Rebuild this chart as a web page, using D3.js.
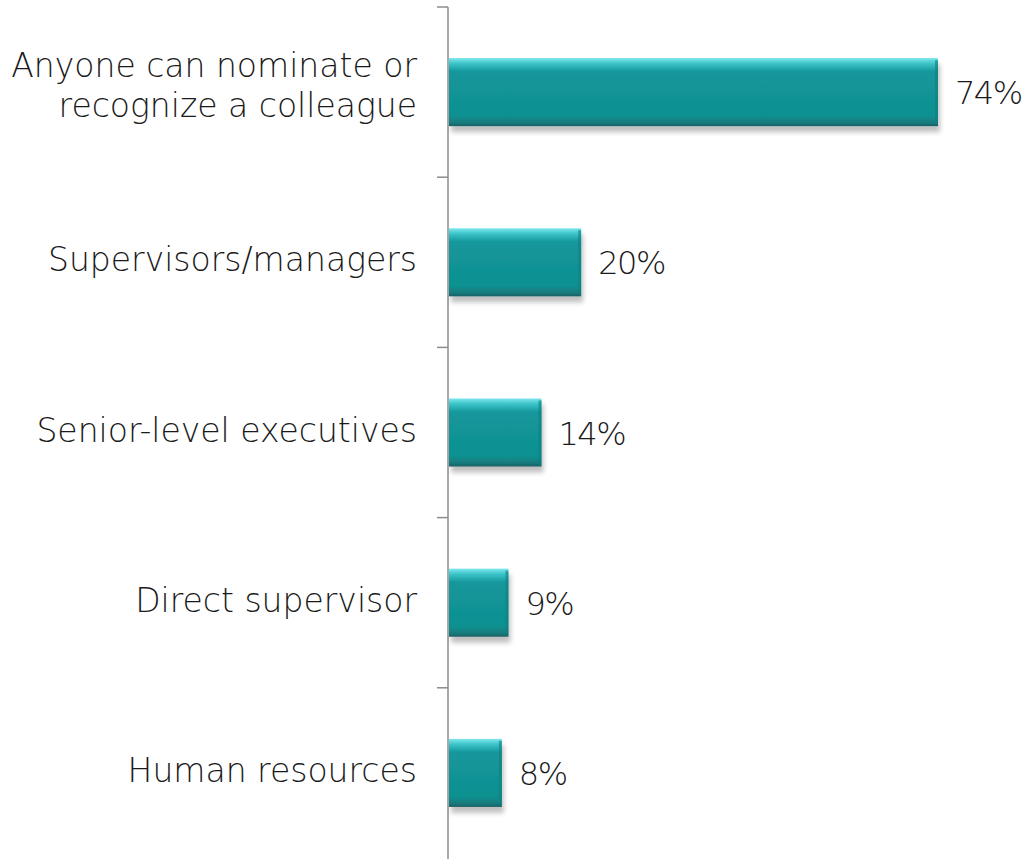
<!DOCTYPE html>
<html><head><meta charset="utf-8">
<script src="https://cdn.jsdelivr.net/npm/d3@7"></script>
<style>body{margin:0;background:#fff;}svg{display:block;}</style>
</head><body>
<svg id="c" width="1025" height="859"></svg>
<script>
const categories = [["Anyone can nominate or","recognize a colleague"],["Supervisors/managers"],["Senior-level executives"],["Direct supervisor"],["Human resources"]];
const values = [74,20,14,9,8];
const valueLabels = ["74%","20%","14%","9%","8%"];

(function(){
const svg = d3.select("#c");
const x0 = 449, yTop = 7, yBot = 858;
const x = d3.scaleLinear().domain([0,74]).range([x0, 938]);
const y = d3.scaleBand().domain(d3.range(values.length)).range([yTop,yBot]).paddingInner(0.6).paddingOuter(0.3);

const defs = svg.append("defs");
const g = defs.append("linearGradient").attr("id","bev").attr("x1",0).attr("y1",0).attr("x2",0).attr("y2",1);
[[0,"#7ee8ee"],[0.08,"#3cc4c8"],[0.2,"#13979b"],[0.85,"#109090"],[0.95,"#157a7c"],[1,"#1d5f62"]].forEach(s=>g.append("stop").attr("offset",s[0]).attr("stop-color",s[1]));
const f = defs.append("filter").attr("id","sh").attr("x","-10%").attr("y","-20%").attr("width","130%").attr("height","150%");
f.append("feGaussianBlur").attr("in","SourceAlpha").attr("stdDeviation",2.5);
f.append("feOffset").attr("dx",2).attr("dy",6).attr("result","ob");
f.append("feComponentTransfer").append("feFuncA").attr("type","linear").attr("slope",0.25);
const m = f.append("feMerge"); m.append("feMergeNode"); m.append("feMergeNode").attr("in","SourceGraphic");

const step = y.step();
const boundaries = d3.range(values.length).map(i => yTop + i*step);
svg.append("line").attr("x1",x0-1).attr("x2",x0-1).attr("y1",yTop).attr("y2",yBot+1).attr("stroke","#8c8c8c").attr("stroke-width",1.5);
svg.selectAll(".tk").data(boundaries).join("line")
 .attr("x1",x0-12).attr("x2",x0-1).attr("y1",d=>d).attr("y2",d=>d).attr("stroke","#8c8c8c").attr("stroke-width",1.5);

svg.selectAll(".bar").data(values).join("rect")
 .attr("x",x0).attr("y",(d,i)=>y(i)).attr("width",d=>x(d)-x0).attr("height",y.bandwidth())
 .attr("fill","url(#bev)").attr("filter","url(#sh)");
svg.selectAll(".bl").data(values).join("rect")
 .attr("x",d=>x(d)-3).attr("y",(d,i)=>y(i)+2).attr("width",3).attr("height",y.bandwidth()-4)
 .attr("fill","#107e80").attr("opacity",0.6);

const font = "'DejaVu Sans', sans-serif";
categories.forEach((lines,i)=>{
  const cy = y(i)+y.bandwidth()/2;
  const n = lines.length;
  const t = svg.append("text").attr("text-anchor","end").attr("font-family",font).attr("font-weight",200)
   .attr("font-size",33).attr("fill","#1a1a1a");
  lines.forEach((l,j)=>{
    t.append("tspan").attr("x",417).attr("y",cy + 9 + (j-(n-1)/2)*40 - (n-1)*4).text(l);
  });
});
svg.selectAll(".vl").data(values).join("text")
 .attr("x",d=>x(d)+17).attr("y",(d,i)=>y(i)+y.bandwidth()/2+12)
 .attr("font-family",font).attr("font-weight",200).attr("font-size",32).attr("letter-spacing",-1.5).attr("fill","#1a1a1a")
 .text((d,i)=>valueLabels[i]);
})();
</script>
</body></html>
